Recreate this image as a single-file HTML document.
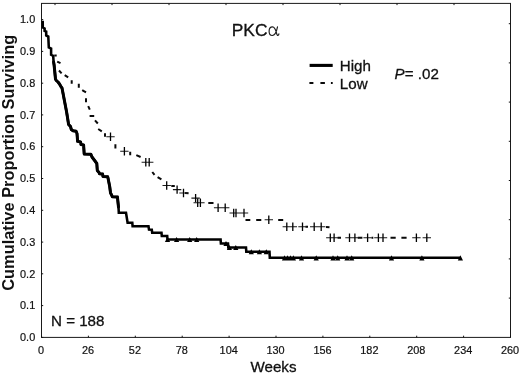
<!DOCTYPE html>
<html><head><meta charset="utf-8"><title>PKCα survival</title>
<style>html,body{margin:0;padding:0;background:#fff;}body{width:520px;height:373px;overflow:hidden;}svg{display:block;font-family:"Liberation Sans",sans-serif;will-change:transform;}</style></head><body>
<svg width="520" height="373" viewBox="0 0 520 373">
<rect x="0" y="0" width="520" height="373" fill="#fff"/>
<rect x="41.5" y="3.4" width="469.0" height="334.0" fill="none" stroke="#1a1a1a" stroke-width="1"/>
<path d="M41.5,337.4 v-1.7 M88.4,337.4 v-1.7 M135.3,337.4 v-1.7 M182.2,337.4 v-1.7 M229.1,337.4 v-1.7 M276.0,337.4 v-1.7 M322.9,337.4 v-1.7 M369.8,337.4 v-1.7 M416.7,337.4 v-1.7 M463.6,337.4 v-1.7 M510.5,337.4 v-1.7 M41.5,337.4 h1.7 M41.5,305.6 h1.7 M41.5,273.8 h1.7 M41.5,242.1 h1.7 M41.5,210.3 h1.7 M41.5,178.5 h1.7 M41.5,146.7 h1.7 M41.5,114.9 h1.7 M41.5,83.2 h1.7 M41.5,51.4 h1.7 M41.5,19.6 h1.7 M454.0,3.4 v1.7 M510.5,298.1 h-1.7 M397.0,3.4 v1.7 M510.5,258.9 h-1.7 M340.0,3.4 v1.7 M510.5,219.7 h-1.7 M283.0,3.4 v1.7 M510.5,180.5 h-1.7 M226.0,3.4 v1.7 M510.5,141.3 h-1.7 M169.0,3.4 v1.7 M510.5,102.1 h-1.7 M112.0,3.4 v1.7 M510.5,62.9 h-1.7 M55.0,3.4 v1.7 M510.5,23.7 h-1.7" stroke="#111" stroke-width="1" fill="none"/>
<g font-size="10.9" fill="#111" stroke="#111" stroke-width="0.2">
<text x="41.1" y="353.5" text-anchor="middle">0</text>
<text x="88.0" y="353.5" text-anchor="middle">26</text>
<text x="134.9" y="353.5" text-anchor="middle">52</text>
<text x="181.8" y="353.5" text-anchor="middle">78</text>
<text x="228.7" y="353.5" text-anchor="middle">104</text>
<text x="275.6" y="353.5" text-anchor="middle">130</text>
<text x="322.5" y="353.5" text-anchor="middle">156</text>
<text x="369.4" y="353.5" text-anchor="middle">182</text>
<text x="416.3" y="353.5" text-anchor="middle">208</text>
<text x="463.2" y="353.5" text-anchor="middle">234</text>
<text x="510.1" y="353.5" text-anchor="middle">260</text>
<text x="35.2" y="341.1" text-anchor="end">0.0</text>
<text x="35.2" y="309.3" text-anchor="end">0.1</text>
<text x="35.2" y="277.5" text-anchor="end">0.2</text>
<text x="35.2" y="245.8" text-anchor="end">0.3</text>
<text x="35.2" y="214.0" text-anchor="end">0.4</text>
<text x="35.2" y="182.2" text-anchor="end">0.5</text>
<text x="35.2" y="150.4" text-anchor="end">0.6</text>
<text x="35.2" y="118.6" text-anchor="end">0.7</text>
<text x="35.2" y="86.9" text-anchor="end">0.8</text>
<text x="35.2" y="55.1" text-anchor="end">0.9</text>
<text x="35.2" y="23.3" text-anchor="end">1.0</text>
</g>
<path d="M54.3,55.5 L56.7,55.5 M57.2,61.6 L60.5,63.2 M59.0,70.5 L61.6,73.4 M64.7,75.1 L68.2,77.4 M71.7,80.3 L71.7,83.8 M78.8,83.8 L78.8,87.8 M82.2,90.1 L86.0,92.4 M86.0,98.2 L86.0,102.2 M88.2,106.2 L89.8,109.7 M89.6,116.0 L94.2,116.0 M95.0,120.3 L97.8,123.5 M98.2,129.0 L101.8,131.4 M105.0,133.3 L105.0,136.8 M115.4,144.3 L115.4,148.4 M130.2,151.8 L130.2,155.3 M136.3,155.1 L140.6,157.0 M152.3,172.0 L154.5,174.9 M157.6,177.1 L161.4,179.4 M171.3,186.1 L174.8,186.1 M185.0,193.0 L188.6,193.3 M208.3,202.9 L213.5,202.9 M245.5,219.9 L250.3,219.9 M256.2,219.9 L261.3,219.9 M278.2,219.9 L283.2,219.9 M305.5,226.8 L308.0,226.8 M326.0,227.0 L329.5,227.3 M337.6,237.8 L341.0,237.8 M357.8,237.8 L362.4,237.8 M371.6,237.8 L373.3,237.8 M390.5,237.8 L395.7,237.8 M401.4,237.8 L406.6,237.8" fill="none" stroke="#0a0a0a" stroke-width="2"/>
<path d="M42.7,20.8 L42.8,27.5 L44.6,28.5 L44.6,30.8 L46.2,31.5 L46.2,35.5 L48.3,36.5 L48.8,47.5 L51.1,48.5 L51.1,54.8 L53.2,55.8 L53.6,62.0 L54.1,65.0 L55.5,79.0 L56.3,80.5 L58.0,82.0 L59.5,84.0 L61.2,87.0 L62.0,88.0 L64.3,100.0 L66.6,112.0 L68.6,124.5 L70.5,126.5 L71.3,129.5 L73.0,130.8 L76.0,131.2 L77.0,133.5 L77.6,141.3 L80.6,142.0 L81.0,144.5 L83.6,145.0 L84.2,154.0 L90.8,154.2 L92.0,157.0 L95.0,161.0 L96.8,163.5 L97.3,170.5 L99.0,172.5 L99.5,173.7 L102.5,173.9 L103.0,176.4 L107.6,176.8 L108.0,178.0 L109.7,186.5 L110.5,192.8 L111.8,195.5 L112.3,196.7 L117.4,196.9 L118.5,207.0 L118.8,212.7 L126.0,212.7 L127.6,222.8 L132.3,222.8 L132.6,226.2 L148.5,226.2 L149.0,229.6 L151.8,229.8 L152.2,232.8 L161.5,232.8 L161.8,236.0 L167.2,236.0 L167.5,239.4 L220.6,239.4 L220.9,243.5 L228.0,243.5 L228.3,247.4 L246.0,247.4 L246.3,251.7 L269.5,251.7 L269.8,257.8 L460.6,257.8" fill="none" stroke="#000" stroke-width="2.55" stroke-linejoin="miter" stroke-linecap="butt"/>
<path d="M53.6,62.0 L54.1,65.0 L55.5,79.0 L56.3,80.5 L58.0,82.0 L59.5,84.0 L61.2,87.0 L62.0,88.0 L64.3,100.0 L66.6,112.0 L68.6,124.5 L70.5,126.5 L71.3,129.5 L73.0,130.8 L76.0,131.2 L77.0,133.5 L77.6,141.3 L80.6,142.0 L81.0,144.5 L83.6,145.0 L84.2,154.0 L90.8,154.2 L92.0,157.0 L95.0,161.0 L96.8,163.5 L97.3,170.5 L99.0,172.5 L99.5,173.7 L102.5,173.9 L103.0,176.4 L107.6,176.8 L108.0,178.0 L109.7,186.5 L110.5,192.8 L111.8,195.5 L112.3,196.7 L117.4,196.9 L118.5,207.0" fill="none" stroke="#000" stroke-width="3.0" stroke-linejoin="round" stroke-linecap="round"/>
<path d="M106.3,136.8 h8.4 M120.2,151.3 h8.4 M141.6,162.2 h8.4 M145.0,162.2 h8.4 M162.5,185.5 h8.4 M172.9,189.6 h8.4 M179.3,193.0 h8.4 M191.4,198.1 h8.4 M193.5,202.7 h8.4 M196.2,202.7 h8.4 M213.9,207.8 h8.4 M221.0,207.8 h8.4 M229.5,213.0 h8.4 M231.8,213.0 h8.4 M239.8,213.0 h8.4 M264.6,219.8 h8.4 M282.6,226.8 h8.4 M288.6,226.8 h8.4 M298.3,226.8 h8.4 M310.0,226.8 h8.4 M317.0,226.8 h8.4 M326.1,237.8 h8.4 M329.9,237.8 h8.4 M345.3,237.8 h8.4 M350.7,237.8 h8.4 M363.4,237.8 h8.4 M374.2,237.8 h8.4 M378.8,237.8 h8.4 M412.2,237.8 h8.4 M422.6,237.8 h8.4" stroke="#1a1a1a" stroke-width="1.05" fill="none"/>
<path d="M110.5,132.6 v8.4 M124.4,147.1 v8.4 M145.8,158.0 v8.4 M149.2,158.0 v8.4 M166.7,181.3 v8.4 M177.1,185.4 v8.4 M183.5,188.8 v8.4 M195.6,193.9 v8.4 M197.7,198.5 v8.4 M200.4,198.5 v8.4 M218.1,203.6 v8.4 M225.2,203.6 v8.4 M233.7,208.8 v8.4 M236.0,208.8 v8.4 M244.0,208.8 v8.4 M268.8,215.6 v8.4 M286.8,222.6 v8.4 M292.8,222.6 v8.4 M302.5,222.6 v8.4 M314.2,222.6 v8.4 M321.2,222.6 v8.4 M330.3,233.6 v8.4 M334.1,233.6 v8.4 M349.5,233.6 v8.4 M354.9,233.6 v8.4 M367.6,233.6 v8.4 M378.4,233.6 v8.4 M383.0,233.6 v8.4 M416.4,233.6 v8.4 M426.8,233.6 v8.4" stroke="#000" stroke-width="1.3" fill="none"/>
<path d="M164.9,242.0 L167.5,236.9 L170.1,242.0 Z M174.0,242.0 L176.6,236.9 L179.2,242.0 Z M187.1,242.0 L189.7,236.9 L192.3,242.0 Z M194.1,242.0 L196.7,236.9 L199.3,242.0 Z M223.4,246.1 L226.0,241.0 L228.6,246.1 Z M226.8,250.0 L229.4,244.9 L232.0,250.0 Z M233.2,250.0 L235.8,244.9 L238.4,250.0 Z M248.7,254.3 L251.3,249.2 L253.9,254.3 Z M256.8,254.3 L259.4,249.2 L262.0,254.3 Z M263.7,254.3 L266.3,249.2 L268.9,254.3 Z M281.9,260.4 L284.5,255.3 L287.1,260.4 Z M284.9,260.4 L287.5,255.3 L290.1,260.4 Z M287.9,260.4 L290.5,255.3 L293.1,260.4 Z M290.8,260.4 L293.4,255.3 L296.0,260.4 Z M298.9,260.4 L301.5,255.3 L304.1,260.4 Z M313.6,260.4 L316.2,255.3 L318.8,260.4 Z M330.4,260.4 L333.0,255.3 L335.6,260.4 Z M335.1,260.4 L337.7,255.3 L340.3,260.4 Z M344.4,260.4 L347.0,255.3 L349.6,260.4 Z M349.1,260.4 L351.7,255.3 L354.3,260.4 Z M388.9,260.4 L391.5,255.3 L394.1,260.4 Z M419.3,260.4 L421.9,255.3 L424.5,260.4 Z M457.8,260.4 L460.4,255.3 L463.0,260.4 Z" fill="#000"/>
<path d="M309.6,65.4 H332.7" stroke="#000" stroke-width="3.1"/>
<path d="M309.4,82.9 H313.4 M320.4,82.9 H324.9 M330.9,82.9 H332.7" stroke="#0a0a0a" stroke-width="2"/>
<g font-size="15.15" fill="#111" stroke="#111" stroke-width="0.3">
<text x="339.8" y="71.1">High</text>
<text x="339.8" y="88.6">Low</text>
<text x="394.6" y="79.4"><tspan font-style="italic">P</tspan>= .02</text>
<text x="51" y="326.3">N = 188</text>
<text x="273.5" y="371.6" text-anchor="middle">Weeks</text>
</g>
<text transform="translate(231.8,35.6) scale(1.04,1)" font-size="16.7" fill="#111" stroke="#111" stroke-width="0.3">PKC</text>
<path d="M277.5,26.9 C276.9,30 275.3,35.5 272.3,35.5 C270.1,35.5 269.1,33.6 269.1,31.2 C269.1,28.8 270.3,26.9 272.5,26.9 C275,26.9 276,31 276.6,33.3 C277,34.9 277.6,35.6 278.2,35.3 C278.6,35.1 278.8,34.5 278.9,33.8" fill="none" stroke="#1a1a1a" stroke-width="1.15" stroke-linecap="round"/>
<text transform="translate(13.9,162.8) rotate(-90)" text-anchor="middle" font-size="16.4" font-weight="bold" fill="#111">Cumulative Proportion Surviving</text>
</svg></body></html>
